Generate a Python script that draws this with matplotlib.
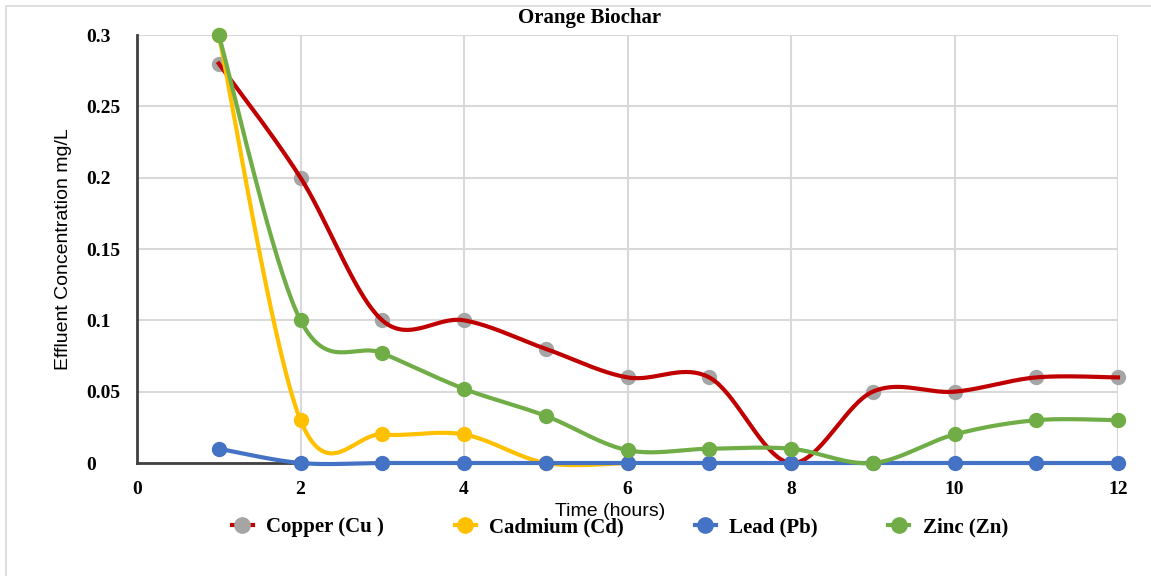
import numpy as np
import matplotlib.pyplot as plt
from matplotlib.lines import Line2D
from matplotlib.patches import Rectangle

# data
hours = [1, 2, 3, 4, 5, 6, 7, 8, 9, 10, 11, 12]
copper = [0.28, 0.20, 0.10, 0.10, 0.08, 0.06, 0.06, 0.0, 0.05, 0.05, 0.06, 0.06]
cadmium_hours = [1, 2, 3, 4, 5, 6]
cadmium = [0.30, 0.03, 0.02, 0.02, 0.0, 0.0]
lead = [0.01, 0, 0, 0, 0, 0, 0, 0, 0, 0, 0, 0]
zinc = [0.30, 0.10, 0.077, 0.052, 0.033, 0.009, 0.01, 0.01, 0.0, 0.02, 0.03, 0.03]

x_ticks = [0, 2, 4, 6, 8, 10, 12]
y_ticks = [0, 0.05, 0.1, 0.15, 0.2, 0.25, 0.3]
y_labels = ['0', '0.05', '0.1', '0.15', '0.2', '0.25', '0.3']

SERIF = 'Liberation Serif'
SANS = 'Liberation Sans'


def smooth(x, y, n=40):
    # Excel-style smoothed line (cubic bezier through the points)
    pts = np.column_stack([x, y]).astype(float)
    pad = np.vstack([pts[0], pts, pts[-1]])
    t = np.linspace(0, 1, n)[:, None]
    segs = []
    for i in range(len(pts) - 1):
        p0, p1, p2, p3 = pad[i], pad[i + 1], pad[i + 2], pad[i + 3]
        c1 = p1 + (p2 - p0) / 6
        c2 = p2 - (p3 - p1) / 6
        b = (1 - t) ** 3 * p1 + 3 * (1 - t) ** 2 * t * c1 + 3 * (1 - t) * t ** 2 * c2 + t ** 3 * p2
        segs.append(b)
    s = np.vstack(segs)
    return s[:, 0], s[:, 1]


fig = plt.figure(figsize=(11.51, 5.76), dpi=100)
fig.patches.append(Rectangle((6 / 1151, -0.1), 1.2, 1 - 6 / 576 + 0.1, transform=fig.transFigure,
                             fill=False, edgecolor='#d9d9d9', linewidth=1.2))
ax = fig.add_axes([137 / 1151, 1 - 463 / 576, (1118 - 137) / 1151, (463 - 35) / 576])

series = [
    ('Copper (Cu )', hours, copper, '#c00000', '#a5a5a5'),
    ('Cadmium (Cd)', cadmium_hours, cadmium, '#ffc000', '#ffc000'),
    ('Lead (Pb)', hours, lead, '#4472c4', '#4472c4'),
    ('Zinc (Zn)', hours, zinc, '#70ad47', '#70ad47'),
]

handles = []
for k, (name, xs, ys, lc, mc) in enumerate(series):
    sx, sy = smooth(xs, ys)
    z = 3 + k * 2
    if name.startswith('Copper'):
        ax.plot(xs, ys, 'o', color=mc, markersize=10, zorder=z, clip_on=False)
        ax.plot(sx, sy, color=lc, linewidth=3, zorder=z + 1, clip_on=False)
    else:
        ax.plot(sx, sy, color=lc, linewidth=3, zorder=z, clip_on=False)
        ax.plot(xs, ys, 'o', color=mc, markersize=10, zorder=z + 1, clip_on=False)
    handles.append(Line2D([], [], color=lc, linewidth=3, marker='o', markersize=11,
                          markerfacecolor=mc, markeredgecolor=mc, label=name))

ax.set_xlim(0, 12)
ax.set_ylim(0, 0.3)
ax.set_xticks(x_ticks)
ax.set_yticks(y_ticks)
ax.set_yticklabels(y_labels)
ax.grid(True, color='#d9d9d9', linewidth=1.5)
ax.set_axisbelow(True)
for side in ['top', 'right']:
    ax.spines[side].set_visible(False)
ax.spines['left'].set_color('#404040')
ax.spines['left'].set_linewidth(2)
ax.spines['bottom'].set_color('#404040')
ax.spines['bottom'].set_linewidth(2)
ax.tick_params(axis='y', length=0, pad=36.7)
ax.tick_params(axis='x', length=0, pad=13)
for lab in ax.get_xticklabels() + ax.get_yticklabels():
    lab.set_fontfamily(SERIF)
    lab.set_fontweight('bold')
    lab.set_fontsize(14)
for lab in ax.get_yticklabels():
    lab.set_horizontalalignment('left')

fig.text(590 / 1151, 1 - 18 / 576, 'Orange Biochar', ha='center', va='center',
         fontfamily=SERIF, fontweight='bold', fontsize=15)
fig.text(610 / 1151, 1 - 512 / 576, 'Time (hours)', ha='center', va='center',
         fontfamily=SANS, fontsize=14)
fig.text(63 / 1151, 1 - 249 / 576, 'Effluent Concentration mg/L', ha='center', va='center',
         rotation=90, fontfamily=SANS, fontsize=14)

fig.legend(handles=handles, loc='center', bbox_to_anchor=(620 / 1151, 1 - 527 / 576),
           ncol=4, frameon=False, handlelength=1.0, handletextpad=0.65, columnspacing=3.39,
           prop={'family': SERIF, 'weight': 'bold', 'size': 15})

fig.savefig('out.png', dpi=100)
